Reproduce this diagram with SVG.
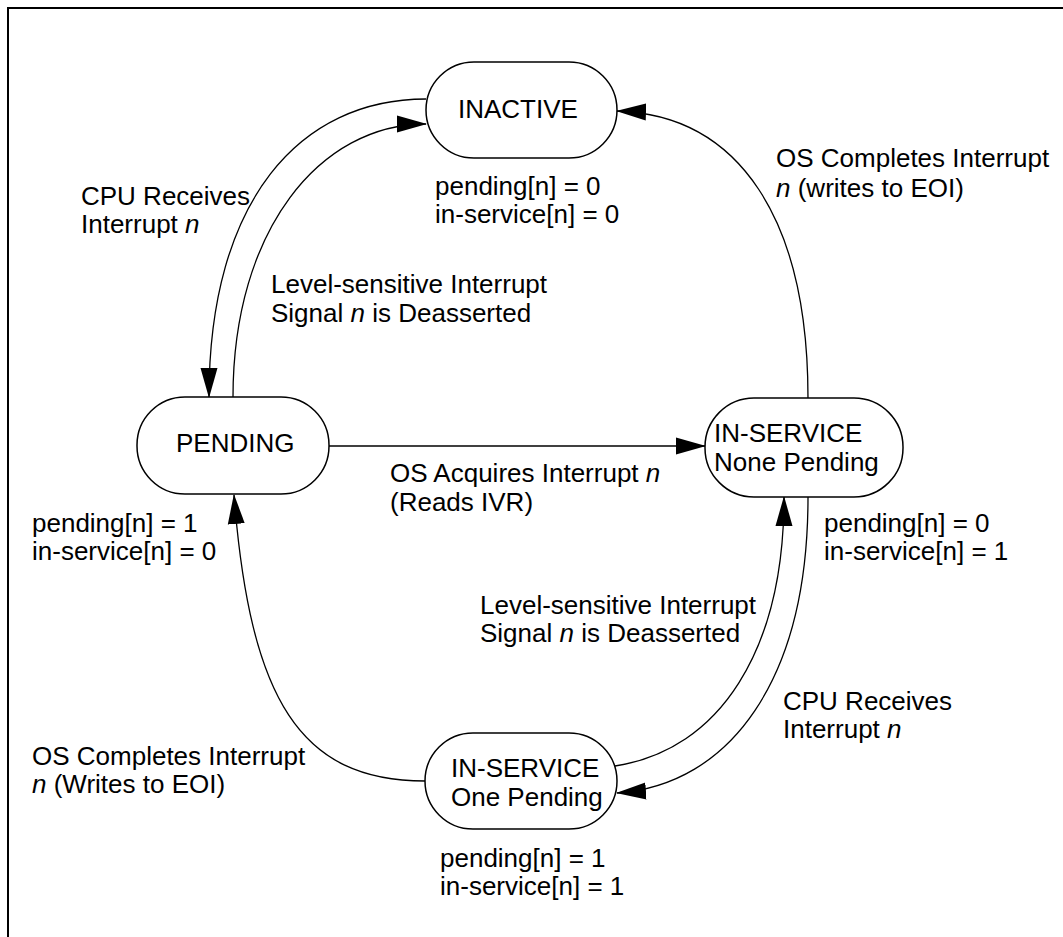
<svg xmlns="http://www.w3.org/2000/svg" width="1063" height="937" viewBox="0 0 1063 937">
<style>
text{font-family:"Liberation Sans",Arial,sans-serif;font-size:26px;fill:#000}
.i{font-style:italic}
.node{fill:#fff;stroke:#000;stroke-width:1.5}
.c{fill:none;stroke:#000;stroke-width:1.3}
</style>
<defs>
<marker id="ah" markerUnits="userSpaceOnUse" markerWidth="30" markerHeight="18" refX="29" refY="8.5" orient="auto" viewBox="0 0 30 17">
<path d="M0,0 L30,8.5 L0,17 z" fill="#000"/>
</marker>
</defs>
<rect width="1063" height="937" fill="#fff"/>
<path d="M8,937 L8,8 L1063,8" fill="none" stroke="#000" stroke-width="2"/>

<g id="connectors">
<path class="c" d="M426,99 C300,99 209,200 209,397" marker-end="url(#ah)"/>
<path class="c" d="M233,397 C233,230 320,124 426,124" marker-end="url(#ah)"/>
<path class="c" d="M808,398 C808,220 740,115 617,111" marker-end="url(#ah)"/>
<path class="c" d="M329,446 L705,446" stroke-width="2" marker-end="url(#ah)"/>
<path class="c" d="M615,766 C720,750 784,650 784,497" marker-end="url(#ah)"/>
<path class="c" d="M808,497 C808,680 730,785 617,793" marker-end="url(#ah)"/>
<path class="c" d="M425,781 C300,781 250,700 234,495" marker-end="url(#ah)"/>
</g>

<g id="inactive">
<rect class="node" x="426" y="62" width="191" height="96" rx="48" ry="48"/>
<text x="458" y="118">INACTIVE</text>
</g>
<g id="pending">
<rect class="node" x="137" y="397" width="192" height="97" rx="48" ry="48"/>
<text x="176" y="452">PENDING</text>
</g>
<g id="inservice-none">
<rect class="node" x="705" y="398" width="198" height="99" rx="49" ry="49"/>
<text x="714" y="442">IN-SERVICE</text>
<text x="714" y="471">None Pending</text>
</g>
<g id="inservice-one">
<rect class="node" x="425" y="733" width="192" height="96" rx="48" ry="48"/>
<text x="451" y="777">IN-SERVICE</text>
<text x="451" y="806">One Pending</text>
</g>

<g id="labels">
<text x="81" y="205">CPU Receives</text>
<text x="81" y="233">Interrupt <tspan class="i">n</tspan></text>
<text x="435" y="195">pending[n] = 0</text>
<text x="435" y="223">in-service[n] = 0</text>
<text x="271" y="293">Level-sensitive Interrupt</text>
<text x="271" y="322">Signal <tspan class="i">n</tspan> is Deasserted</text>
<text x="776" y="167">OS Completes Interrupt</text>
<text x="776" y="197"><tspan class="i">n</tspan> (writes to EOI)</text>
<text x="32" y="532">pending[n] = 1</text>
<text x="32" y="560">in-service[n] = 0</text>
<text x="390" y="482">OS Acquires Interrupt <tspan class="i">n</tspan></text>
<text x="390" y="511">(Reads IVR)</text>
<text x="824" y="532">pending[n] = 0</text>
<text x="824" y="560">in-service[n] = 1</text>
<text x="480" y="614">Level-sensitive Interrupt</text>
<text x="480" y="642">Signal <tspan class="i">n</tspan> is Deasserted</text>
<text x="783" y="710">CPU Receives</text>
<text x="783" y="738">Interrupt <tspan class="i">n</tspan></text>
<text x="32" y="765">OS Completes Interrupt</text>
<text x="32" y="793"><tspan class="i">n</tspan> (Writes to EOI)</text>
<text x="440" y="867">pending[n] = 1</text>
<text x="440" y="895">in-service[n] = 1</text>
</g>
</svg>
